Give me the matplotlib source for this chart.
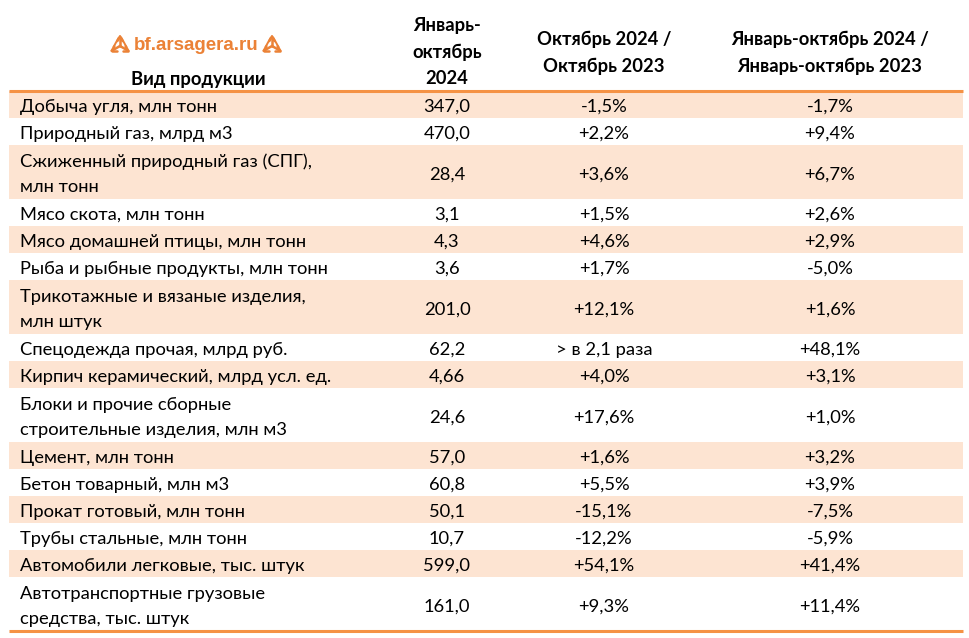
import math
import matplotlib
matplotlib.use("Agg")
import matplotlib.pyplot as plt
from matplotlib.patches import Rectangle

categories = [
    "Добыча угля, млн тонн",
    "Природный газ, млрд м3",
    "Сжиженный природный газ (СПГ),\nмлн тонн",
    "Мясо скота, млн тонн",
    "Мясо домашней птицы, млн тонн",
    "Рыба и рыбные продукты, млн тонн",
    "Трикотажные и вязаные изделия,\nмлн штук",
    "Спецодежда прочая, млрд руб.",
    "Кирпич керамический, млрд усл. ед.",
    "Блоки и прочие сборные\nстроительные изделия, млн м3",
    "Цемент, млн тонн",
    "Бетон товарный, млн м3",
    "Прокат готовый, млн тонн",
    "Трубы стальные, млн тонн",
    "Автомобили легковые, тыс. штук",
    "Автотранспортные грузовые\nсредства, тыс. штук",
]
ytd_2024 = ["347,0", "470,0", "28,4", "3,1", "4,3", "3,6", "201,0", "62,2", "4,66",
            "24,6", "57,0", "60,8", "50,1", "10,7", "599,0", "161,0"]
oct_change = ["-1,5%", "+2,2%", "+3,6%", "+1,5%", "+4,6%", "+1,7%", "+12,1%", "> в 2,1 раза",
              "+4,0%", "+17,6%", "+1,6%", "+5,5%", "-15,1%", "-12,2%", "+54,1%", "+9,3%"]
ytd_change = ["-1,7%", "+9,4%", "+6,7%", "+2,6%", "+2,9%", "-5,0%", "+1,6%", "+48,1%",
              "+3,1%", "+1,0%", "+3,2%", "+3,9%", "-7,5%", "-5,9%", "+41,4%", "+11,4%"]
headers = ["Вид продукции", "Январь-\nоктябрь\n2024", "Октябрь 2024 /\nОктябрь 2023",
           "Январь-октябрь 2024 /\nЯнварь-октябрь 2023"]

FONT = "Lato"
FS = 13.2
ORANGE = "#F59245"
FILL = "#FDE4D2"
LOGO = "#EB8237"

W, H = 970, 638
fig = plt.figure(figsize=(W / 100, H / 100), dpi=100)
ax = fig.add_axes([0, 0, 1, 1])
ax.set_xlim(0, W)
ax.set_ylim(H, 0)
ax.axis("off")

x_left, x_right = 9, 963
col_x = [20, 447, 604, 830]
unit = 27
line_gap = 25.5
top = 91

# header
for j in (1, 2, 3):
    lines = headers[j].split("\n")
    n = len(lines)
    for k, ln in enumerate(lines):
        yy = (26 + k * 26.5) if n == 3 else (39 + k * 27)
        ax.text(col_x[j], yy, ln, ha="center", va="center", fontsize=FS,
                fontweight="bold", family=FONT, color="black")
ax.text(198, 79, headers[0], ha="center", va="center", fontsize=FS,
        fontweight="bold", family=FONT, color="black")

# logo
ax.text(196, 45, "bf.arsagera.ru", ha="center", va="center", fontsize=13.5,
        fontweight="bold", family="Liberation Sans", color=LOGO)


def emblem(cx, cy, s):
    # three arrows radiating from a centre: up, down-left, down-right
    for ang in (90, 210, 330):
        a = math.radians(ang)
        ex, ey = cx + s * math.cos(a), cy - s * math.sin(a)
        ax.plot([cx, ex], [cy, ey], color=LOGO, lw=1.8, solid_capstyle="round")
        # chevron head
        for d in (150, -150):
            b = a + math.radians(d)
            hx, hy = ex + 0.55 * s * math.cos(b), ey - 0.55 * s * math.sin(b)
            ax.plot([ex, hx], [ey, hy], color=LOGO, lw=1.8, solid_capstyle="round")
    # side wings hugging the vertical stem
    for sgn in (-1, 1):
        ax.plot([cx + sgn * 1.5, cx + sgn * 6.5], [cy - s * 0.85, cy + 1],
                color=LOGO, lw=1.4, solid_capstyle="round")


emblem(120, 46, 9.5)
emblem(272, 46, 9.5)

# rows
y = top
for i, cat in enumerate(categories):
    lines = cat.split("\n")
    h = unit * len(lines)
    if i % 2 == 0:
        ax.add_patch(Rectangle((x_left, y), x_right - x_left, h, facecolor=FILL,
                               edgecolor="none", zorder=0))
    cy = y + h / 2 + 2.5
    n = len(lines)
    for k, ln in enumerate(lines):
        ly = cy + (k - (n - 1) / 2) * line_gap
        ax.text(col_x[0], ly, ln, ha="left", va="center", fontsize=FS,
                family=FONT, color="black")
    ax.text(col_x[1], cy, ytd_2024[i], ha="center", va="center", fontsize=FS,
            family=FONT, color="black")
    ax.text(col_x[2], cy, oct_change[i], ha="center", va="center", fontsize=FS,
            family=FONT, color="black")
    ax.text(col_x[3], cy, ytd_change[i], ha="center", va="center", fontsize=FS,
            family=FONT, color="black")
    y += h

ax.plot([x_left, x_right], [top, top], color=ORANGE, lw=2.2, solid_capstyle="butt")
ax.plot([x_left, x_right], [y, y], color=ORANGE, lw=2.2, solid_capstyle="butt")

fig.savefig("out.png", dpi=100, facecolor="white")
